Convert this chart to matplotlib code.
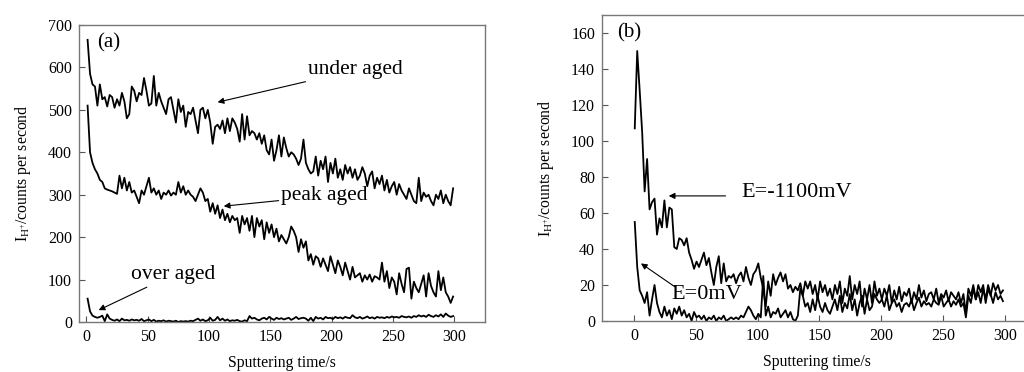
import numpy as np
import matplotlib
matplotlib.use("Agg")
import matplotlib.pyplot as plt

plt.rcParams['font.family'] = ['Liberation Serif', 'DejaVu Serif']
plt.rcParams['mathtext.fontset'] = 'custom'
plt.rcParams['mathtext.rm'] = 'Liberation Serif'

# ---- data (sampled every 2 s starting at 1 s) ----
under_aged = [
    665, 585, 560, 555, 510, 560, 525, 530, 508, 535,
    530, 505, 525, 510, 540, 520, 480, 490, 555, 545,
    520, 540, 535, 575, 545, 510, 515, 580, 510, 540,
    520, 505, 490, 525, 530, 500, 470, 525, 495, 510,
    460, 495, 490, 505, 475, 445, 500, 505, 480, 500,
    470, 420, 460, 465, 455, 475, 445, 480, 450, 480,
    470, 455, 425, 490, 430, 485, 440, 450, 445, 430,
    445, 420, 440, 405, 395, 430, 380, 405, 440, 390,
    435, 410, 390, 400, 395, 385, 370, 385, 430, 375,
    360, 350, 355, 390, 345, 380, 360, 390, 330, 375,
    350, 385, 340, 360, 335, 370, 350, 365, 340, 360,
    335, 345, 365, 350, 320, 345, 355, 315, 340, 325,
    345, 310, 335, 305, 320, 330, 300, 325, 310, 300,
    290, 315, 300, 285, 280, 340, 285, 305, 295, 300,
    285, 275, 300, 290, 310, 280, 300, 285, 275, 315,
]
peak_aged = [
    510, 400, 375, 360, 350, 335, 330, 315, 312, 310,
    308, 305, 302, 345, 315, 340, 310, 330, 305, 310,
    295, 280, 310, 300, 320, 340, 305, 315, 300, 310,
    290, 305, 300, 310, 298, 305, 300, 330, 305, 320,
    300, 310, 300, 295, 285, 300, 315, 305, 285, 290,
    260, 280, 255, 275, 245, 265, 240, 255, 235, 250,
    240, 245, 210, 250, 230, 245, 215, 250, 200, 245,
    225, 240, 195, 235, 210, 230, 200, 220, 190, 205,
    195, 185, 200, 225, 215, 200, 165, 195, 175, 190,
    145, 160, 135, 155, 150, 130, 150, 135, 120, 155,
    135, 115, 145, 130, 110, 140, 120, 100, 130, 105,
    110, 115, 95, 110, 100, 112, 95, 108, 105, 100,
    140, 95, 120, 80, 105, 95, 65, 115, 90, 70,
    125, 128, 55, 95, 80, 70, 90, 110, 60, 115,
    85, 70, 60, 120, 75, 105, 70, 60, 45, 60,
]
over_aged = [
    55, 25, 15, 12, 10, 12, 15, 2, 18, 8,
    5, 3, 6, 2, 8, 4, 5, 3, 6, 4,
    5, 3, 7, 2, 4, 6, 2, 5, 1, 3,
    2, 4, 1, 3, 2, 1, 3, 0, 2, 1,
    2, 1, 3, 2, 5, 8, 3, 6, 2, 4,
    10, 3, 5, 12, 4, 8, 3, 6, 2, 4,
    3, 5, 2, 1, 4, 2, 14, 8, 10, 6,
    4, 8, 10, 6, 12, 8, 5, 10, 7, 9,
    6, 8, 10, 5, 8, 12, 7, 9, 10, 8,
    3, 10, 2, 12, 8, 10, 6, 12, 9, 10,
    7, 12, 9, 11, 8, 12, 10, 9, 16, 11,
    9, 12, 8, 10, 13, 9, 11, 8, 12, 10,
    11, 9, 12, 10, 13, 11, 12, 10, 14, 12,
    11, 13, 10, 14, 12, 16, 13, 15, 12, 17,
    14, 12, 16, 13, 18, 12, 20, 15, 12, 14,
]
e_1100 = [
    107, 150, 128, 105, 72, 90, 62, 66, 68, 48,
    57, 52, 67, 52, 63, 62, 41, 40, 46, 45,
    42, 46, 38, 34, 29, 33, 30, 34, 38, 31,
    35, 27, 20, 30, 36, 21, 32, 22, 25, 24,
    26, 21, 25, 27, 22, 30, 24, 20, 26, 28,
    32, 24, 18, 8, 22, 14, 26, 20, 24, 27,
    22, 26, 18, 20, 16, 19, 17, 21, 14, 22,
    18, 22, 15, 20, 12, 22, 16, 20, 14, 18,
    12, 20, 15, 22, 10, 18, 14, 25, 12, 20,
    15, 22, 8, 18, 12, 20, 10, 22, 14, 18,
    12, 18, 14, 20, 10, 17, 12, 19, 11, 16,
    14, 18, 10, 16, 12, 20, 13, 17, 11, 15,
    16, 12, 18, 10, 15, 13, 17, 11, 16, 14,
    12, 16, 10, 15, 4, 18, 14, 20, 12, 20,
    16, 20, 10, 18, 14, 21, 17, 20, 15, 17,
]
e_0 = [
    55, 30, 17, 14, 10, 16, 3, 12, 20, 10,
    5, 2, 8, 3, 6, 1, 7, 4, 8, 3,
    6, 2, 4, 0, 5, 2, 3, 1, 3, 0,
    2, 1, 3, 0, 2, 1, 3, 0, 1, 2,
    1, 2, 1, 3, 2, 5, 8, 6, 3, 1,
    4, 2, 25, 3, 8, 2, 5, 4, 7, 2,
    4, 6, 2, 5, 1, 0, 3, 18, 14, 8,
    10, 5, 12, 6, 14, 8, 5, 10, 6, 4,
    8, 12, 6, 14, 5, 10, 7, 15, 6, 12,
    3, 10, 14, 4, 12, 6, 8, 15, 12, 10,
    12, 8, 14, 6, 10, 12, 8, 10, 5, 9,
    10, 8, 12, 6, 10, 13, 8, 11, 9, 10,
    8, 12, 10, 9, 14, 8, 10, 12, 8, 11,
    9, 12, 8, 10, 2, 14, 10, 18, 12, 16,
    10, 18, 12, 20, 15, 10, 16, 12, 14, 11,
]

x_ticks = [0, 50, 100, 150, 200, 250, 300]
ya_ticks = [0, 100, 200, 300, 400, 500, 600, 700]
yb_ticks = [0, 20, 40, 60, 80, 100, 120, 140, 160]

def tgrid(n):
    return np.arange(n) * 2 + 1

fig = plt.figure(figsize=(10.24, 3.72), dpi=100)
ax1 = fig.add_axes([79/1024, 50/372, 406/1024, 297/372])
ax2 = fig.add_axes([602/1024, 51/372, 430/1024, 306/372])

lw = 1.3
for y in (under_aged, peak_aged, over_aged):
    ax1.plot(tgrid(len(y)), y, color='black', lw=lw)
for y in (e_1100, e_0):
    ax2.plot(tgrid(len(y)) - 0.5, y, color='black', lw=lw)

ax1.set_xlim(-6, 325)
ax1.set_ylim(0, 700)
ax2.set_xlim(-26, 322)
ax2.set_ylim(0, 170)
ax1.set_xticks(x_ticks)
ax1.set_yticks(ya_ticks)
ax2.set_xticks(x_ticks)
ax2.set_yticks(yb_ticks)

ylab = r'$\mathregular{I_{H^{+}}}$/counts per second'
for ax in (ax1, ax2):
    ax.tick_params(direction='in', length=4, width=0.8, labelsize=11.5,
                   color='#555555', pad=5)
    for s in ax.spines.values():
        s.set_color('#777777')
        s.set_linewidth(1.0)
    ax.set_xlabel('Sputtering time/s', fontsize=11.3, labelpad=7)
    ax.set_ylabel(ylab, fontsize=11.3, labelpad=11)

arrow = dict(arrowstyle='-|>', color='black', lw=0.8, mutation_scale=9,
             shrinkA=0, shrinkB=0)
ax1.text(9, 658, '(a)', fontsize=15, va='center', ha='left')
ax1.annotate('under aged', xy=(107, 518), xytext=(181, 594), fontsize=15.5,
             va='center', ha='left', arrowprops=arrow)
ax1.annotate('peak aged', xy=(112, 273), xytext=(159, 297), fontsize=15.5,
             va='center', ha='left', arrowprops=arrow)
ax1.annotate('over aged', xy=(10, 28), xytext=(36, 111), fontsize=15.5,
             va='center', ha='left', arrowprops=arrow)

ax2.text(-14, 160, '(b)', fontsize=15, va='center', ha='left')
ax2.annotate('', xy=(28, 69.5), xytext=(74, 69.5), arrowprops=arrow)
ax2.text(87, 71.5, 'E=-1100mV', fontsize=16, va='center', ha='left')
ax2.annotate('', xy=(5.5, 32), xytext=(33, 19), arrowprops=arrow)
ax2.text(30.5, 14.5, 'E=0mV', fontsize=16, va='center', ha='left')

fig.savefig('out.png', dpi=100)
